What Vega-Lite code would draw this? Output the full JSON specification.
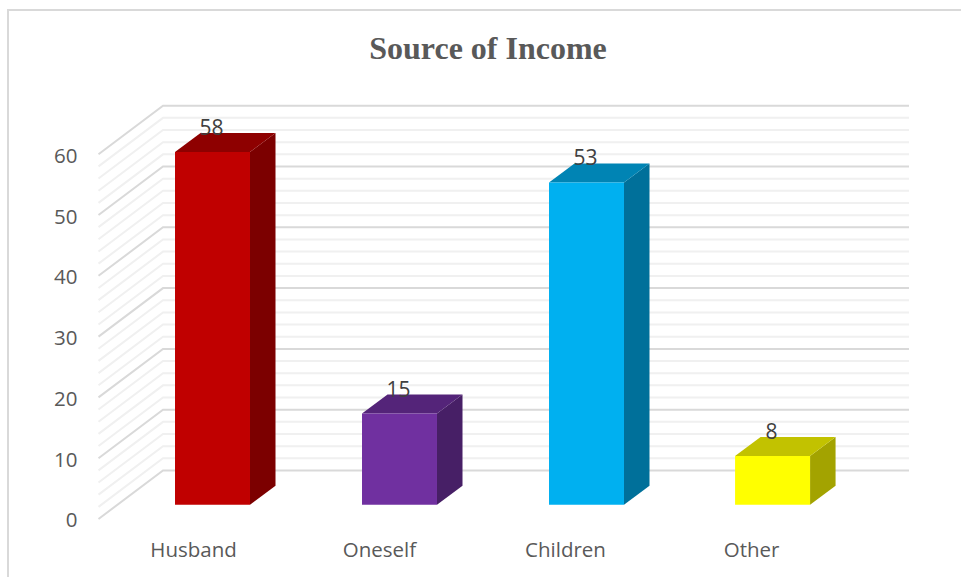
{
  "$schema": "https://vega.github.io/schema/vega-lite/v6.json",
  "width": 960,
  "height": 580,
  "autosize": "none",
  "padding": {"left": 8, "top": 10, "right": 0, "bottom": 0},
  "background": "white",
  "config": {"view": {"stroke": "#d9d9d9", "strokeWidth": 2}},
  "title": {
    "text": "Source of Income",
    "font": "Liberation Serif",
    "fontSize": 32,
    "fontWeight": "bold",
    "color": "#595959",
    "anchor": "middle",
    "offset": -56
  },
  "datasets": {
    "bars": [
      {"category": "Husband", "value": 58, "slot": 0},
      {"category": "Oneself", "value": 15, "slot": 1},
      {"category": "Children", "value": 53, "slot": 2},
      {"category": "Other", "value": 8, "slot": 2.995}
    ],
    "levels": [
      {"level": 0}, {"level": 2}, {"level": 4}, {"level": 6}, {"level": 8},
      {"level": 10}, {"level": 12}, {"level": 14}, {"level": 16}, {"level": 18},
      {"level": 20}, {"level": 22}, {"level": 24}, {"level": 26}, {"level": 28},
      {"level": 30}, {"level": 32}, {"level": 34}, {"level": 36}, {"level": 38},
      {"level": 40}, {"level": 42}, {"level": 44}, {"level": 46}, {"level": 48},
      {"level": 50}, {"level": 52}, {"level": 54}, {"level": 56}, {"level": 58},
      {"level": 60}
    ]
  },
  "encoding": {
    "x": {
      "type": "quantitative",
      "scale": {"domain": [-1.0936, 4.0401], "nice": false, "zero": false},
      "axis": {
        "orient": "bottom", "title": null, "grid": false, "domain": false, "ticks": false,
        "offset": -50, "labelPadding": 0,
        "values": [-0.104, 0.89, 1.885, 2.88],
        "labelExpr": "['Husband','Oneself','Children','Other'][round(datum.value)]",
        "labelFont": "Open Sans", "labelFontSize": 20.5, "labelColor": "#595959",
        "labelFlush": false, "labelOverlap": false
      }
    },
    "y": {
      "type": "quantitative",
      "scale": {"domain": [-11.68, 83.72], "nice": false, "zero": false},
      "axis": {
        "orient": "left", "title": null, "grid": false, "domain": false, "ticks": false,
        "offset": -69, "labelPadding": 0, "labelOffset": 2,
        "values": [0, 10, 20, 30, 40, 50, 60],
        "labelFont": "Open Sans", "labelFontSize": 20.5, "labelColor": "#595959"
      }
    }
  },
  "layer": [
    {
      "description": "Minor wall lines: left wall diagonal plus back wall run",
      "data": {"name": "levels"},
      "transform": [
        {"filter": "datum.level % 10 !== 0"},
        {"calculate": "[-0.6096, -0.2647, 3.7246]", "as": "wx"},
        {"calculate": "[datum.level, datum.level + 7.98, datum.level + 7.98]", "as": "wy"},
        {"flatten": ["wx", "wy"]}
      ],
      "mark": {"type": "line", "stroke": "#f0f0f0", "strokeWidth": 2},
      "encoding": {
        "x": {"field": "wx"},
        "y": {"field": "wy"},
        "detail": {"field": "level", "type": "nominal"},
        "order": {"field": "wx", "type": "quantitative"}
      }
    },
    {
      "description": "Major wall lines at each labelled value",
      "data": {"name": "levels"},
      "transform": [
        {"filter": "datum.level % 10 === 0"},
        {"calculate": "[-0.6096, -0.2647, 3.7246]", "as": "wx"},
        {"calculate": "[datum.level, datum.level + 7.98, datum.level + 7.98]", "as": "wy"},
        {"flatten": ["wx", "wy"]}
      ],
      "mark": {"type": "line", "stroke": "#d9d9d9", "strokeWidth": 2},
      "encoding": {
        "x": {"field": "wx"},
        "y": {"field": "wy"},
        "detail": {"field": "level", "type": "nominal"},
        "order": {"field": "wx", "type": "quantitative"}
      }
    },
    {
      "description": "Right-hand side face of each column",
      "data": {"name": "bars"},
      "transform": [
        {"calculate": "[datum.slot + 0.2005, datum.slot + 0.3369]", "as": "sx"},
        {"calculate": "[2.35, 5.475]", "as": "sLow"},
        {"calculate": "[datum.value + 2.35, datum.value + 5.475]", "as": "sHigh"},
        {"flatten": ["sx", "sLow", "sHigh"]}
      ],
      "mark": {"type": "area", "orient": "vertical"},
      "encoding": {
        "x": {"field": "sx"},
        "y": {"field": "sHigh"},
        "y2": {"field": "sLow"},
        "color": {
          "field": "category", "type": "nominal", "legend": null,
          "scale": {
            "domain": ["Husband", "Oneself", "Children", "Other"],
            "range": ["#7c0000", "#471f66", "#00709a", "#a3a300"]
          }
        }
      }
    },
    {
      "description": "Top face of each column",
      "data": {"name": "bars"},
      "transform": [
        {"calculate": "[datum.slot - 0.2005, datum.slot - 0.0641, datum.slot + 0.2005, datum.slot + 0.3369]", "as": "tx"},
        {"calculate": "[datum.value + 2.35, datum.value + 2.35, datum.value + 2.35, datum.value + 5.475]", "as": "tLow"},
        {"calculate": "[datum.value + 2.35, datum.value + 5.475, datum.value + 5.475, datum.value + 5.475]", "as": "tHigh"},
        {"flatten": ["tx", "tLow", "tHigh"]}
      ],
      "mark": {"type": "area", "orient": "vertical"},
      "encoding": {
        "x": {"field": "tx"},
        "y": {"field": "tHigh"},
        "y2": {"field": "tLow"},
        "color": {
          "field": "category", "type": "nominal", "legend": null,
          "scale": {
            "domain": ["Husband", "Oneself", "Children", "Other"],
            "range": ["#8e0000", "#542479", "#0084b4", "#c2c200"]
          }
        }
      }
    },
    {
      "description": "Front face of each column",
      "data": {"name": "bars"},
      "transform": [
        {"calculate": "datum.slot - 0.2005", "as": "fx"},
        {"calculate": "datum.slot + 0.2005", "as": "fx2"},
        {"calculate": "2.35", "as": "fLow"},
        {"calculate": "datum.value + 2.35", "as": "fHigh"}
      ],
      "mark": {"type": "rect"},
      "encoding": {
        "x": {"field": "fx"},
        "x2": {"field": "fx2"},
        "y": {"field": "fHigh"},
        "y2": {"field": "fLow"},
        "color": {
          "field": "category", "type": "nominal", "legend": null,
          "scale": {
            "domain": ["Husband", "Oneself", "Children", "Other"],
            "range": ["#c00000", "#7030a0", "#00b0f0", "#ffff00"]
          }
        }
      }
    },
    {
      "description": "Value labels sitting on the back edge of each column top",
      "data": {"name": "bars"},
      "transform": [
        {"calculate": "datum.value + 5.475", "as": "labelY"}
      ],
      "mark": {"type": "text", "font": "Open Sans", "fontSize": 21, "color": "#404040", "baseline": "alphabetic", "dy": 2, "dx": -1, "align": "center"},
      "encoding": {
        "x": {"field": "slot"},
        "y": {"field": "labelY"},
        "text": {"field": "value", "type": "quantitative"}
      }
    }
  ],
  "resolve": {"scale": {"color": "independent"}}
}
